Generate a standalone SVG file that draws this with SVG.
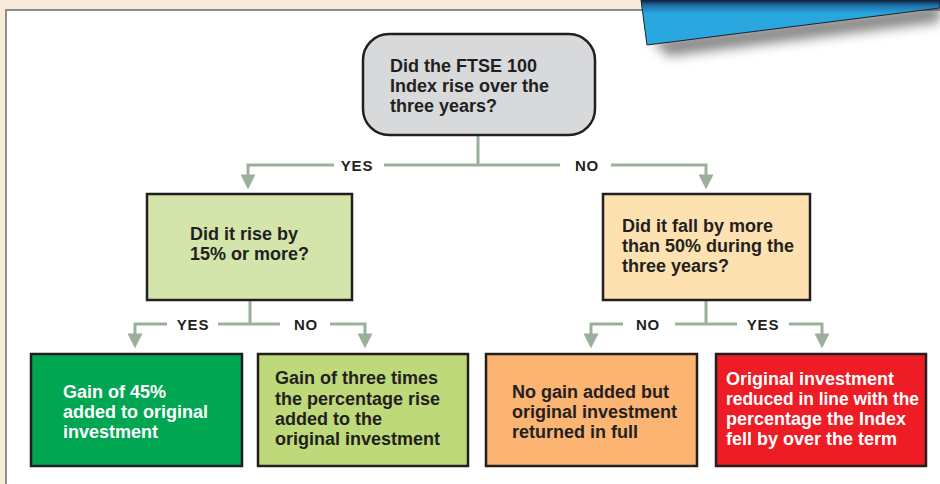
<svg xmlns="http://www.w3.org/2000/svg" width="940" height="484" viewBox="0 0 940 484">
<defs>
<style>
.box{stroke:#231f20;stroke-width:2.5}
.t{font-family:"Liberation Sans",Arial,sans-serif;font-weight:bold;font-size:18px;fill:#231f20}
.w{fill:#ffffff}
.lbl{font-family:"Liberation Sans",Arial,sans-serif;font-weight:bold;font-size:15px;fill:#231f20;letter-spacing:0.8px;text-anchor:middle}
.c{fill:none;stroke:#9bb09a;stroke-width:3}
</style>
<marker id="ah" markerWidth="5" markerHeight="5" refX="3.2" refY="2.5" orient="auto" markerUnits="strokeWidth">
<path d="M0,0 L5,2.5 L0,5 Z" fill="#9bb09a"/>
</marker>
<linearGradient id="bg" x1="0" y1="0" x2="0" y2="1">
<stop offset="0" stop-color="#0b1f3f"/>
<stop offset="0.12" stop-color="#1e6fa8"/>
<stop offset="0.3" stop-color="#29a6dd"/>
<stop offset="1" stop-color="#2aa7df"/>
</linearGradient>
<filter id="blur" x="-20%" y="-50%" width="140%" height="200%">
<feGaussianBlur stdDeviation="6"/>
</filter>
</defs>
<rect x="0" y="0" width="940" height="484" fill="#f9ebd9"/>
<rect x="6" y="10" width="940" height="480" fill="#ffffff" stroke="#6e6b68" stroke-width="1.5"/>
<g id="banner">
<polygon points="652,40 940,4 940,22 668,56" fill="#555" opacity="0.7" filter="url(#blur)"/>
<polygon points="641,0 940,0 940,8 647,45" fill="url(#bg)" stroke="#222" stroke-width="1"/>
</g>
<g id="connectors">
<polyline class="c" points="478,135 478,165"/>
<polyline class="c" points="334,165 248,165 248,184" marker-end="url(#ah)"/>
<polyline class="c" points="384,165 560,165"/>
<polyline class="c" points="611,165 706,165 706,184" marker-end="url(#ah)"/>
<text class="lbl" x="357" y="170.5">YES</text>
<text class="lbl" x="587" y="170.5">NO</text>
<polyline class="c" points="250,301 250,324"/>
<polyline class="c" points="167,324 135,324 135,343" marker-end="url(#ah)"/>
<polyline class="c" points="218,324 280,324"/>
<polyline class="c" points="330,324 365,324 365,343" marker-end="url(#ah)"/>
<text class="lbl" x="193" y="329.5">YES</text>
<text class="lbl" x="306" y="329.5">NO</text>
<polyline class="c" points="706,301 706,324"/>
<polyline class="c" points="623,324 591,324 591,343" marker-end="url(#ah)"/>
<polyline class="c" points="675,324 737,324"/>
<polyline class="c" points="789,324 822,324 822,343" marker-end="url(#ah)"/>
<text class="lbl" x="648" y="329.5">NO</text>
<text class="lbl" x="763" y="329.5">YES</text>
</g>
<g id="q1">
<rect class="box" x="363" y="34" width="232" height="101" rx="26" ry="26" fill="#d8d9db"/>
<text class="t" x="390" y="72">Did the FTSE 100</text>
<text class="t" x="390" y="92">Index rise over the</text>
<text class="t" x="390" y="112">three years?</text>
</g>
<g id="q2">
<rect class="box" x="147" y="194" width="205" height="106" fill="#d3e5ab"/>
<text class="t" x="190" y="240">Did it rise by</text>
<text class="t" x="190" y="260">15% or more?</text>
</g>
<g id="q3">
<rect class="box" x="603" y="194" width="207" height="106" fill="#fde1b1"/>
<text class="t" x="622" y="232">Did it fall by more</text>
<text class="t" x="622" y="252">than 50% during the</text>
<text class="t" x="622" y="272">three years?</text>
</g>
<g id="r1">
<rect class="box" x="31" y="354" width="211" height="112" fill="#00a651"/>
<text class="t w" x="63" y="398">Gain of 45%</text>
<text class="t w" x="63" y="418">added to original</text>
<text class="t w" x="63" y="438">investment</text>
</g>
<g id="r2">
<rect class="box" x="258" y="354" width="210" height="112" fill="#bed97a"/>
<text class="t" x="275" y="384">Gain of three times</text>
<text class="t" x="275" y="405">the percentage rise</text>
<text class="t" x="275" y="425">added to the</text>
<text class="t" x="275" y="445">original investment</text>
</g>
<g id="r3">
<rect class="box" x="486" y="354" width="211" height="112" fill="#fcb473"/>
<text class="t" x="512" y="398">No gain added but</text>
<text class="t" x="512" y="418">original investment</text>
<text class="t" x="512" y="438">returned in full</text>
</g>
<g id="r4">
<rect class="box" x="716" y="354" width="210" height="112" fill="#ee1c25"/>
<text class="t w" x="726" y="385">Original investment</text>
<text class="t w" x="726" y="405" textLength="193" lengthAdjust="spacingAndGlyphs">reduced in line with the</text>
<text class="t w" x="726" y="425">percentage the Index</text>
<text class="t w" x="726" y="445">fell by over the term</text>
</g>
</svg>
